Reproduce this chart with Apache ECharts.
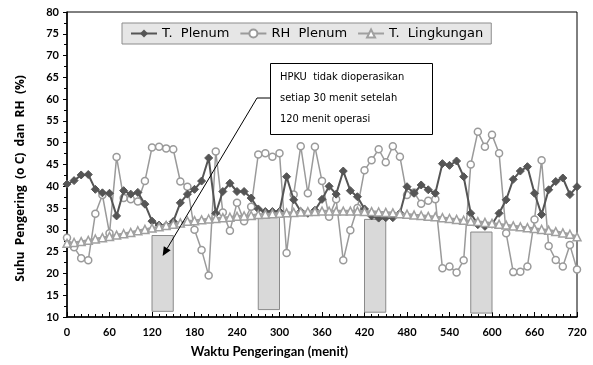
<!DOCTYPE html>
<html>
<head>
<meta charset="utf-8">
<script src="https://cdn.jsdelivr.net/npm/echarts@6/dist/echarts.min.js"></script>
<style>
  html, body { margin: 0; padding: 0; background: #fff; }
  #main { width: 593px; height: 365px; }
</style>
</head>
<body>
<div id="main"></div>
<script>
// waktu (menit)
var menit = [0, 10, 20, 30, 40, 50, 60, 70, 80, 90, 100, 110, 120, 130, 140, 150, 160, 170, 180, 190,
  200, 210, 220, 230, 240, 250, 260, 270, 280, 290, 300, 310, 320, 330, 340, 350, 360, 370, 380, 390,
  400, 410, 420, 430, 440, 450, 460, 470, 480, 490, 500, 510, 520, 530, 540, 550, 560, 570, 580, 590,
  600, 610, 620, 630, 640, 650, 660, 670, 680, 690, 700, 710, 720];

var tPlenum = [40.5, 41.3, 42.6, 42.7, 39.3, 38.5, 38.4, 33.2, 39.0, 38.2, 38.6, 35.9, 32.0, 31.1, 31.0, 31.9, 36.2, 38.2, 39.3, 41.2,
  46.5, 33.8, 38.8, 40.7, 38.8, 38.8, 37.3, 34.8, 34.2, 34.2, 34.2, 42.2, 36.9, 34.2, 33.8, 34.5, 37.0, 40.0, 38.2, 43.5,
  39.0, 37.6, 34.8, 33.2, 32.7, 32.8, 32.8, 33.8, 39.9, 38.4, 40.3, 39.2, 38.4, 45.2, 44.8, 45.8, 42.2, 33.8, 31.2, 30.8,
  31.3, 33.8, 36.9, 41.6, 43.5, 44.5, 38.4, 33.5, 39.2, 41.1, 41.9, 38.1, 39.9];

var rhPlenum = [28.2, 26.0, 23.5, 23.0, 33.7, 38.0, 29.2, 46.7, 37.3, 37.0, 36.5, 41.2, 48.9, 49.1, 48.7, 48.5, 41.1, 39.9, 30.0, 25.4,
  19.5, 48.0, 34.0, 29.8, 36.2, 32.0, 35.3, 47.3, 47.6, 46.8, 47.6, 24.7, 38.1, 49.2, 38.4, 49.1, 41.2, 33.0, 37.0, 23.0,
  29.9, 35.0, 43.7, 46.0, 48.5, 45.5, 49.2, 46.8, 38.0, 38.6, 36.0, 36.7, 37.0, 21.2, 21.6, 20.2, 23.0, 45.0, 52.5, 49.1,
  51.8, 47.6, 29.2, 20.3, 20.4, 21.6, 32.4, 46.0, 26.3, 23.1, 21.6, 26.5, 20.9];

var tLingkungan = [26.9, 27.1, 27.3, 27.6, 27.9, 28.2, 28.5, 28.8, 29.1, 29.4, 29.8, 30.1, 30.4, 30.7, 31.0, 31.3, 31.6, 32.0, 32.1, 32.3,
  32.5, 32.6, 32.8, 32.9, 33.1, 33.2, 33.3, 33.5, 33.6, 33.7, 33.8, 33.9, 34.0, 34.1, 34.2, 34.2, 34.3, 34.3, 34.3, 34.3,
  34.3, 34.3, 34.2, 34.2, 34.1, 34.0, 33.9, 33.7, 33.6, 33.4, 33.3, 33.1, 33.0, 32.8, 32.6, 32.4, 32.2, 32.0, 31.9, 31.7,
  31.5, 31.3, 31.1, 30.9, 30.7, 30.5, 30.3, 30.1, 29.9, 29.6, 29.3, 29.0, 28.4];

// periode HPKU tidak dioperasikan: [mulai, selesai, bawah, atas]
var jedaMulai = [120, 270, 420, 570];
var jedaSelesai = [150, 300, 450, 600];
var jedaBawah = [11.3, 11.7, 11.1, 10.9];
var jedaAtas = [28.7, 32.9, 32.4, 29.5];

var catatan = ['HPKU  tidak dioperasikan', 'setiap 30 menit setelah', '120 menit operasi'];

var pairs = function (ys) {
  return menit.map(function (m, i) { return [m, ys[i]]; });
};

var chart = echarts.init(document.getElementById('main'));

var areas = jedaMulai.map(function (m, i) {
  return [{ coord: [m, jedaBawah[i]] }, { coord: [jedaSelesai[i], jedaAtas[i]] }];
});

var labelFont = 'Lato';

chart.setOption({
  animation: false,
  backgroundColor: '#fff',
  grid: {
    left: 67, right: 16, top: 12, bottom: 48,
    show: true, borderColor: '#000', borderWidth: 1
  },
  legend: {
    left: 122, top: 23,
    backgroundColor: '#e6e6e6',
    borderColor: '#8c8c8c', borderWidth: 1,
    padding: [4, 8, 4, 8],
    itemGap: 10,
    itemWidth: 26, itemHeight: 10,
    textStyle: { fontFamily: 'DejaVu Sans', fontSize: 13, color: '#000' },
    data: ['T.  Plenum', 'RH  Plenum', 'T.  Lingkungan']
  },
  xAxis: {
    type: 'value', min: 0, max: 720, interval: 60,
    name: 'Waktu Pengeringan (menit)',
    nameLocation: 'middle', nameGap: 28,
    nameTextStyle: { fontFamily: labelFont, fontWeight: 'bold', fontSize: 13, color: '#000', padding: [0, 105, 0, 0] },
    axisLine: { lineStyle: { color: '#000', width: 1.5 } },
    axisTick: { inside: true, length: 5, lineStyle: { color: '#000' } },
    minorTick: { show: true, splitNumber: 6, length: 3, lineStyle: { color: '#000' } },
    axisLabel: { fontFamily: labelFont, fontWeight: 'bold', fontSize: 11, color: '#000', margin: 10 },
    splitLine: { show: false }
  },
  yAxis: {
    type: 'value', min: 10, max: 80, interval: 5,
    name: 'Suhu  Pengering  (o C)  dan  RH  (%)',
    nameLocation: 'middle', nameGap: 40,
    nameTextStyle: { fontFamily: 'Open Sans', fontWeight: 'bold', fontSize: 12, color: '#000', padding: [0, 28, 0, 0] },
    axisLine: { lineStyle: { color: '#000', width: 1.5 } },
    axisTick: { inside: false, length: 4, lineStyle: { color: '#000' } },
    minorTick: { show: true, splitNumber: 2, length: 3, lineStyle: { color: '#000' } },
    axisLabel: { fontFamily: labelFont, fontWeight: 'bold', fontSize: 11, color: '#000', margin: 8 },
    splitLine: { show: false }
  },
  series: [
    {
      name: 'T.  Plenum', type: 'line',
      data: pairs(tPlenum),
      symbol: 'diamond', symbolSize: 8,
      lineStyle: { color: '#555', width: 2 },
      itemStyle: { color: '#555', borderColor: '#555' },
      z: 3
    },
    {
      name: 'RH  Plenum', type: 'line',
      data: pairs(rhPlenum),
      symbol: 'circle', symbolSize: 7,
      lineStyle: { color: '#9a9a9a', width: 1.5 },
      itemStyle: { color: '#fff', borderColor: '#9a9a9a', borderWidth: 1.5 },
      z: 2
    },
    {
      name: 'T.  Lingkungan', type: 'line',
      data: pairs(tLingkungan),
      symbol: 'triangle', symbolSize: 8,
      lineStyle: { color: '#a0a0a0', width: 2.5 },
      itemStyle: { color: '#fff', borderColor: '#a0a0a0', borderWidth: 1.5 },
      markArea: {
        silent: true,
        itemStyle: { color: '#d9d9d9', borderColor: '#8a8a8a', borderWidth: 1 },
        data: areas
      },
      z: 4
    }
  ]
});

// kotak catatan dan panah
var tip = chart.convertToPixel({ gridIndex: 0 }, [135, 24]);
var elbow = [257, 98];
var ang = Math.atan2(tip[1] - elbow[1], tip[0] - elbow[0]);
var ah = 9, aw = 4;
var bx = tip[0] - ah * Math.cos(ang), by = tip[1] - ah * Math.sin(ang);

chart.setOption({
  graphic: [
    {
      type: 'rect', z: 100,
      shape: { x: 270.5, y: 63.5, width: 162, height: 71 },
      style: { fill: '#fff', stroke: '#000', lineWidth: 1 }
    },
    {
      type: 'text', z: 101, left: 280, top: 72,
      style: { text: catatan[0], font: '11px "DejaVu Sans Condensed"', fill: '#000' }
    },
    {
      type: 'text', z: 101, left: 280, top: 93,
      style: { text: catatan[1], font: '11px "DejaVu Sans Condensed"', fill: '#000' }
    },
    {
      type: 'text', z: 101, left: 280, top: 114,
      style: { text: catatan[2], font: '11px "DejaVu Sans Condensed"', fill: '#000' }
    },
    {
      type: 'polyline', z: 100,
      shape: { points: [[270, 98], elbow, [bx, by]] },
      style: { stroke: '#000', lineWidth: 1, fill: null }
    },
    {
      type: 'polygon', z: 100,
      shape: {
        points: [
          tip,
          [bx + aw * Math.sin(ang), by - aw * Math.cos(ang)],
          [bx - aw * Math.sin(ang), by + aw * Math.cos(ang)]
        ]
      },
      style: { fill: '#000' }
    }
  ]
});
</script>
</body>
</html>
